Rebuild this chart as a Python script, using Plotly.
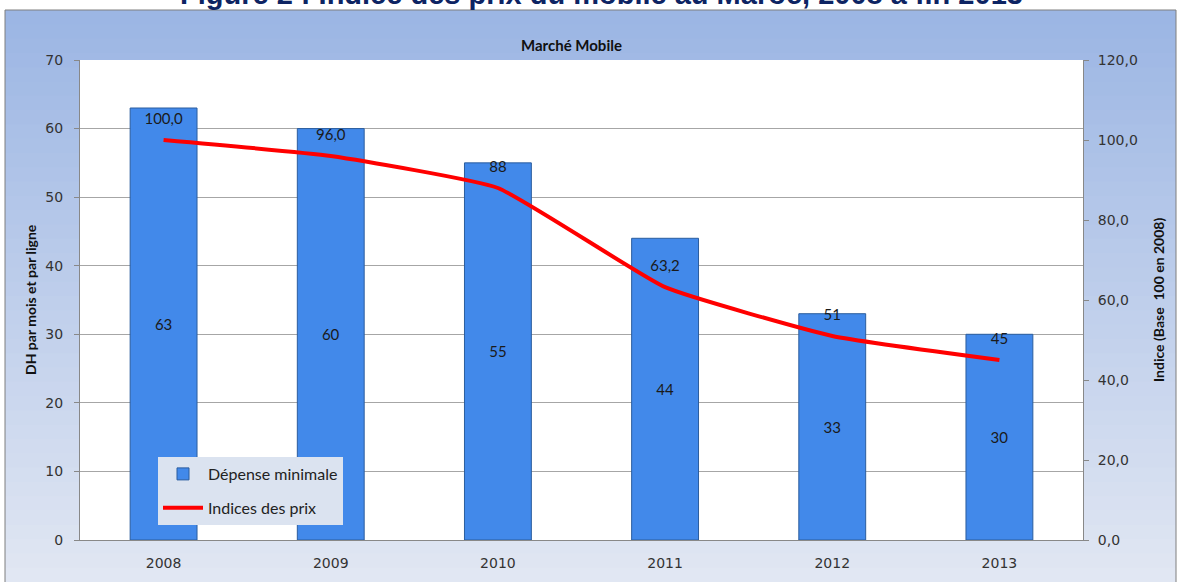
import plotly.graph_objects as go

years = ["2008", "2009", "2010", "2011", "2012", "2013"]
depense = [63, 60, 55, 44, 33, 30]
indices = [100.0, 96.0, 88.0, 63.2, 51.0, 45.0]
indice_labels = ["100,0", "96,0", "88", "63,2", "51", "45"]

left_ticks = [0, 10, 20, 30, 40, 50, 60, 70]
right_ticks = [0, 20, 40, 60, 80, 100, 120]
right_ticktext = ["0,0", "20,0", "40,0", "60,0", "80,0", "100,0", "120,0"]

W, H = 1181, 582
L, R, T, B = 80, 98, 60, 42
ph = H - T - B
pw = W - L - R


def px_x(x):
    return (x - L) / pw


def px_y(y):
    return (H - B - y) / ph


fig = go.Figure()

fig.add_trace(go.Bar(
    x=years, y=depense, name="Dépense minimale",
    width=0.4, legendgroup="a",
    marker=dict(color="#4289ea", line=dict(color="#2b5d9e", width=1)),
    text=[str(v) for v in depense], textposition="inside",
    insidetextanchor="middle",
    textfont=dict(family="Lato, sans-serif", size=15, color="#1a1a1a"),
    hoverinfo="x+y",
))

fig.add_trace(go.Scatter(
    x=years, y=indices, name="Indices des prix", yaxis="y2",
    mode="lines+markers+text", legendgroup="b",
    line=dict(color="#ff0000", width=4, shape="spline", smoothing=0.4),
    marker=dict(size=18, color="rgba(0,0,0,0)"),
    text=indice_labels, textposition="top center",
    textfont=dict(family="Lato, sans-serif", size=15, color="#1a1a1a"),
))

# gradient chart background (top blue -> pale bottom)
shapes = []
top_c = (156, 182, 228)
bot_c = (225, 231, 243)
n = 40
y0, y1 = 10, H
for i in range(n):
    f = i / (n - 1)
    c = tuple(int(top_c[k] + (bot_c[k] - top_c[k]) * f) for k in range(3))
    ya = y0 + (y1 - y0) * i / n
    yb = y0 + (y1 - y0) * (i + 1) / n + 1
    shapes.append(dict(type="rect", xref="paper", yref="paper", layer="below",
                       x0=px_x(5), x1=px_x(1176), y0=px_y(yb), y1=px_y(ya),
                       line=dict(width=0), fillcolor="rgb(%d,%d,%d)" % c))
shapes.append(dict(type="rect", xref="paper", yref="paper", layer="below",
                   x0=0, x1=1, y0=0, y1=1, line=dict(width=0), fillcolor="white"))
shapes.append(dict(type="rect", xref="paper", yref="paper", layer="below",
                   x0=px_x(5), x1=px_x(1176), y0=px_y(H + 2), y1=px_y(10),
                   line=dict(color="#7f7f7f", width=1), fillcolor="rgba(0,0,0,0)"))

tick_font = dict(family="DejaVu Sans, sans-serif", size=14, color="#333333")

fig.update_layout(
    width=W, height=H,
    margin=dict(l=L, r=R, t=T, b=B),
    paper_bgcolor="white", plot_bgcolor="white",
    shapes=shapes,
    showlegend=True,
    legend=dict(x=px_x(158), y=px_y(457), xanchor="left", yanchor="top",
                bgcolor="#dbe3f0", borderwidth=0, itemwidth=40,
                tracegroupgap=10,
                font=dict(family="Lato, sans-serif", size=16, color="#222222")),
    xaxis=dict(tickfont=tick_font, showline=True, linecolor="#888888",
               ticks="", showgrid=False, ticklabelstandoff=10),
    yaxis=dict(range=[0, 70], tickvals=left_ticks, tickfont=tick_font,
               showgrid=True, gridcolor="#a6a6a6", gridwidth=1,
               showline=True, linecolor="#888888", ticks="outside",
               ticklen=5, tickcolor="#888888", zeroline=False,
               ticklabelstandoff=8),
    yaxis2=dict(range=[0, 120], tickvals=right_ticks, ticktext=right_ticktext,
                overlaying="y", side="right", tickfont=tick_font,
                showgrid=False, showline=True, linecolor="#888888",
                ticks="outside", ticklen=5, tickcolor="#888888", zeroline=False,
                ticklabelstandoff=6),
    annotations=[
        dict(text="<b>Figure 2 : Indice des prix du mobile au Maroc, 2008 à fin 2013</b>",
             x=px_x(601), y=px_y(-6), xref="paper", yref="paper",
             xanchor="center", yanchor="middle", showarrow=False,
             font=dict(family="Liberation Sans, Arial, sans-serif", size=29, color="#0d2463")),
        dict(text="<b>Marché Mobile</b>", x=px_x(571), y=px_y(45),
             xref="paper", yref="paper", xanchor="center", yanchor="middle",
             showarrow=False, font=dict(family="Lato, sans-serif", size=15, color="#111111")),
        dict(text="<b>DH par mois et par ligne</b>", x=px_x(30), y=px_y(300),
             xref="paper", yref="paper", xanchor="center", yanchor="middle",
             textangle=-90, showarrow=False,
             font=dict(family="Lato, sans-serif", size=14, color="#111111")),
        dict(text="<b>Indice (Base  100 en 2008)</b>", x=px_x(1158), y=px_y(300),
             xref="paper", yref="paper", xanchor="center", yanchor="middle",
             textangle=-90, showarrow=False,
             font=dict(family="Lato, sans-serif", size=14, color="#111111")),
    ],
)

fig.write_html("out.html", config={"displayModeBar": False},
               post_script="document.body.style.margin='0';")
